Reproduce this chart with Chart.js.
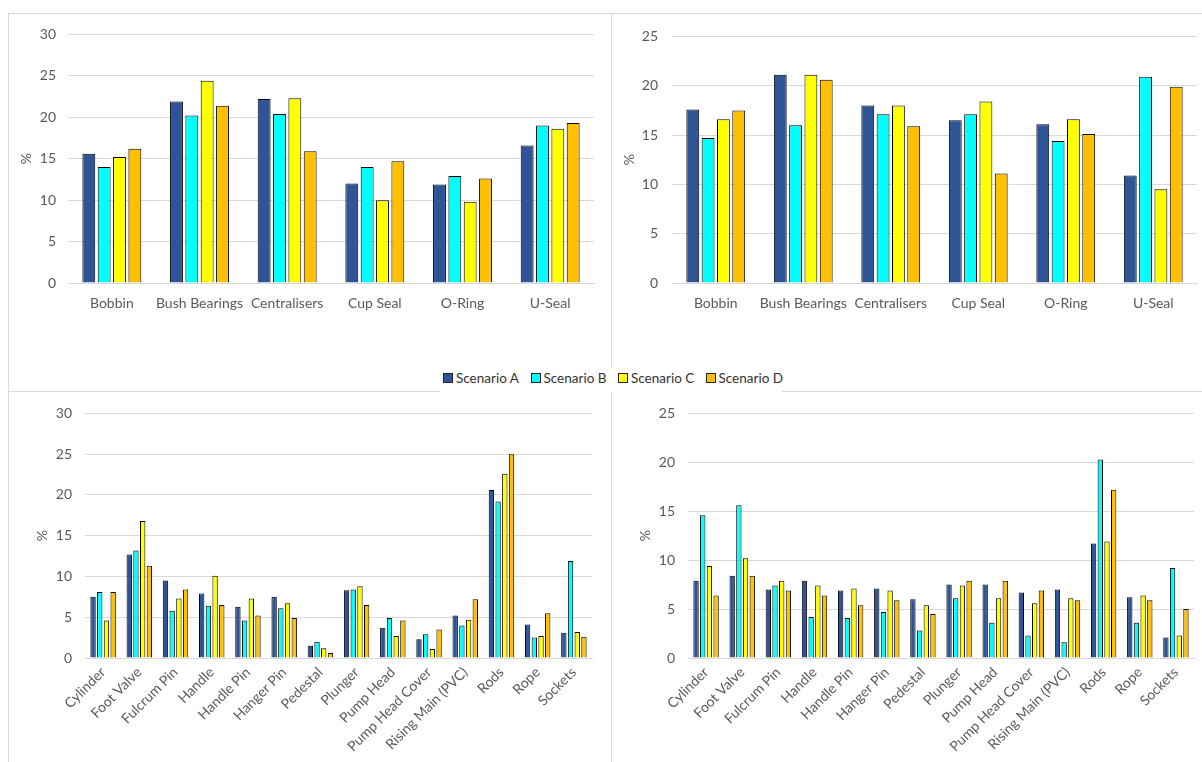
<!DOCTYPE html>
<html>
<head>
<meta charset="utf-8">
<script src="https://cdn.jsdelivr.net/npm/chart.js@4.4.1/dist/chart.umd.min.js"></script>
<style>
  html,body{margin:0;padding:0;background:#fff;}
  #wrap{position:relative;width:1202px;height:762px;overflow:hidden;background:#fff;font-family:Lato, "Open Sans", sans-serif;}
  .cv{position:absolute;}
  .ln{position:absolute;background:#d9d9d9;}
  #legend{position:absolute;top:368px;left:443px;height:20px;display:flex;align-items:center;font-size:13.5px;color:#333;}
  #legend .it{display:flex;align-items:center;width:87.5px;white-space:nowrap;}
  #legend .sw{width:10px;height:10px;border:1px solid #222;margin-right:3px;box-sizing:border-box;}
</style>
</head>
<body>
<div id="wrap">
  <div class="ln" style="left:8px;top:13px;width:1194px;height:1px;"></div>
  <div class="ln" style="left:8px;top:13px;width:1px;height:749px;"></div>
  <div class="ln" style="left:611px;top:13px;width:1px;height:354px;"></div>
  <div class="ln" style="left:611px;top:392px;width:1px;height:370px;"></div>
  <div class="ln" style="left:8px;top:391px;width:432px;height:1px;"></div>
  <div class="ln" style="left:782px;top:391px;width:420px;height:1px;"></div>
  <div class="cv" style="left:8px;top:14px;width:592px;height:351px;"><canvas id="c1"></canvas></div>
  <div class="cv" style="left:612px;top:14px;width:590px;height:351px;"><canvas id="c2"></canvas></div>
  <div class="cv" style="left:9px;top:392px;width:591px;height:370px;"><canvas id="c3"></canvas></div>
  <div class="cv" style="left:612px;top:392px;width:590px;height:370px;"><canvas id="c4"></canvas></div>
  <div id="legend"></div>
</div>
<script>
// ---- data ----
const seriesNames = ['Scenario A', 'Scenario B', 'Scenario C', 'Scenario D'];
const seriesColors = ['#2F5597', '#00FFFF', '#FFFF00', '#FFC000'];

const topCategories = ['Bobbin', 'Bush Bearings', 'Centralisers', 'Cup Seal', 'O-Ring', 'U-Seal'];
const bottomCategories = ['Cylinder', 'Foot Valve', 'Fulcrum Pin', 'Handle', 'Handle Pin', 'Hanger Pin', 'Pedestal',
  'Plunger', 'Pump Head', 'Pump Head Cover', 'Rising Main (PVC)', 'Rods', 'Rope', 'Sockets'];

const topLeftTicks = [0, 5, 10, 15, 20, 25, 30];
const topRightTicks = [0, 5, 10, 15, 20, 25];

// top-left panel
const tlA = [15.6, 21.9, 22.2, 12.0, 11.9, 16.6];
const tlB = [14.0, 20.2, 20.4, 14.0, 12.9, 19.0];
const tlC = [15.2, 24.4, 22.3, 10.0, 9.8, 18.6];
const tlD = [16.2, 21.4, 15.9, 14.7, 12.6, 19.3];

// top-right panel
const trA = [17.6, 21.1, 18.0, 16.5, 16.1, 10.9];
const trB = [14.7, 16.0, 17.1, 17.1, 14.4, 20.9];
const trC = [16.6, 21.1, 18.0, 18.4, 16.6, 9.5];
const trD = [17.5, 20.6, 15.9, 11.1, 15.1, 19.9];

// bottom-left panel
const blA = [7.5, 12.7, 9.5, 7.9, 6.3, 7.5, 1.5, 8.3, 3.7, 2.3, 5.2, 20.6, 4.1, 3.1];
const blB = [8.1, 13.2, 5.8, 6.4, 4.6, 6.1, 2.0, 8.4, 4.9, 2.9, 4.0, 19.2, 2.5, 11.9];
const blC = [4.6, 16.8, 7.3, 10.1, 7.3, 6.7, 1.2, 8.8, 2.7, 1.1, 4.7, 22.6, 2.7, 3.2];
const blD = [8.1, 11.3, 8.4, 6.5, 5.2, 4.9, 0.6, 6.5, 4.6, 3.5, 7.2, 25.0, 5.5, 2.6];

// bottom-right panel
const brA = [7.9, 8.4, 7.0, 7.9, 6.9, 7.1, 6.0, 7.5, 7.5, 6.7, 7.0, 11.7, 6.2, 2.1];
const brB = [14.6, 15.6, 7.4, 4.2, 4.1, 4.7, 2.8, 6.1, 3.6, 2.3, 1.6, 20.3, 3.6, 9.2];
const brC = [9.4, 10.2, 7.9, 7.4, 7.1, 6.9, 5.4, 7.4, 6.1, 5.6, 6.1, 11.9, 6.4, 2.3];
const brD = [6.4, 8.4, 6.9, 6.4, 5.4, 5.9, 4.5, 7.9, 7.9, 6.9, 5.9, 17.2, 5.9, 5.0];

// ---- rendering ----
const FONT = 'Lato, "Open Sans", sans-serif';
const TXT = '#595959';
const GRID = '#d9d9d9';

function makeChart(id, labels, series, ticks, o) {
  const datasets = series.map((d, i) => ({
    label: seriesNames[i],
    data: d,
    backgroundColor: seriesColors[i],
    borderColor: '#000000',
    borderWidth: 1,
    categoryPercentage: o.catPct,
    barPercentage: o.barPct
  }));
  return new Chart(document.getElementById(id), {
    type: 'bar',
    data: { labels: labels, datasets: datasets },
    options: {
      responsive: true,
      maintainAspectRatio: false,
      animation: false,
      layout: { padding: { top: o.padTop, right: o.padRight, bottom: 0, left: 0 } },
      plugins: { legend: { display: false }, tooltip: { enabled: false } },
      scales: {
        x: {
          grid: { display: false, drawTicks: false },
          border: { display: true, color: GRID, width: 1 },
          ticks: {
            color: TXT, font: { family: FONT, size: 14 },
            autoSkip: false, maxRotation: o.rot, minRotation: o.rot, padding: o.xPad
          },
          afterFit: s => { s.height = o.xHeight; }
        },
        y: {
          min: ticks[0], max: ticks[ticks.length - 1],
          afterBuildTicks: s => { s.ticks = ticks.map(v => ({ value: v })); },
          grid: { color: GRID, drawTicks: false, lineWidth: 1 },
          border: { display: false },
          ticks: { color: TXT, font: { family: FONT, size: 14 }, padding: o.yPad },
          title: { display: true, text: '%', color: TXT, font: { family: FONT, size: 14 }, padding: { top: o.titlePad, bottom: 0 } },
          afterFit: s => { s.width = o.yWidth; }
        }
      }
    }
  });
}

makeChart('c1', topCategories, [tlA, tlB, tlC, tlD], topLeftTicks,
  { catPct: 0.7, barPct: 0.84, padTop: 18, padRight: 6, xHeight: 82, yWidth: 60, yPad: 12, xPad: 12, rot: 0, titlePad: 10 });
makeChart('c2', topCategories, [trA, trB, trC, trD], topRightTicks,
  { catPct: 0.7, barPct: 0.84, padTop: 18, padRight: 5, xHeight: 82, yWidth: 60, yPad: 14, xPad: 12, rot: 0, titlePad: 9 });
makeChart('c3', bottomCategories, [blA, blB, blC, blD], topLeftTicks,
  { catPct: 0.74, barPct: 0.8, padTop: 18, padRight: 8, xHeight: 104, yWidth: 76, yPad: 13, xPad: 6, rot: 45, titlePad: 25 });
makeChart('c4', bottomCategories, [brA, brB, brC, brD], topRightTicks,
  { catPct: 0.74, barPct: 0.8, padTop: 18, padRight: 8, xHeight: 104, yWidth: 76, yPad: 13, xPad: 6, rot: 45, titlePad: 25 });

// legend built from series arrays
const lg = document.getElementById('legend');
seriesNames.forEach((n, i) => {
  const it = document.createElement('div'); it.className = 'it';
  const sw = document.createElement('div'); sw.className = 'sw'; sw.style.background = seriesColors[i];
  const tx = document.createElement('span'); tx.textContent = n;
  it.appendChild(sw); it.appendChild(tx); lg.appendChild(it);
});
</script>
</body>
</html>
